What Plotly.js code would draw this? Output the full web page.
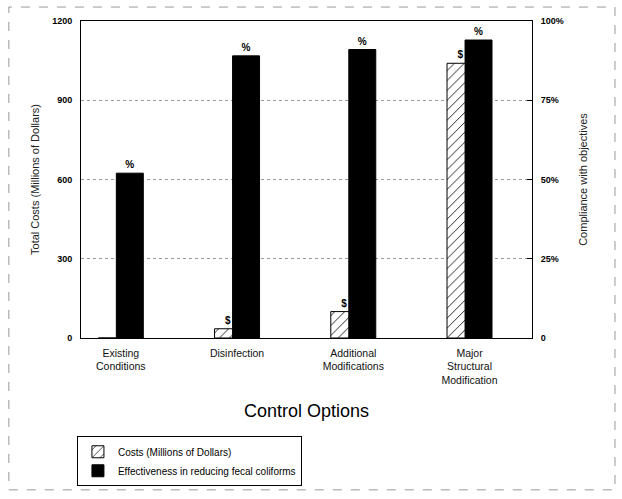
<!DOCTYPE html>
<html>
<head>
<meta charset="utf-8">
<script src="https://cdn.plot.ly/plotly-3.0.1.min.js"></script>
<style>
  html, body { margin: 0; padding: 0; background: #fff; }
  #chart { width: 622px; height: 499px; }
</style>
</head>
<body>
<div id="chart"></div>
<script>
// Control options compared by cost and by effectiveness
const categories = [
  "Existing<br>Conditions",
  "Disinfection",
  "Additional<br>Modifications",
  "Major<br>Structural<br>Modification"
];
const costs = [0, 35, 100, 1040];          // millions of dollars
const effectiveness = [52, 89, 91, 94];    // % compliance with objectives

const costTicks = [0, 300, 600, 900, 1200];
const pctTickVals = [0, 25, 50, 75, 100];
const pctTickText = ["0", "25%", "50%", "75%", "100%"];

const font = "Liberation Sans, Arial, sans-serif";
const barW = 0.232;

const costTrace = {
  type: "bar",
  name: "Costs (Millions of Dollars)",
  x: categories,
  y: costs,
  yaxis: "y",
  width: barW,
  offset: -barW / 2 - 0.155,
  text: costs.map(v => (v > 0 ? "$" : "")),
  textposition: "outside",
  cliponaxis: false,
  textfont: { family: font, size: 10, color: "#000", weight: "bold" },
  marker: {
    color: "#fff",
    line: { color: "#000", width: 1 },
    pattern: { shape: "/", fgcolor: "#000", bgcolor: "#fff", size: 7, solidity: 0.12 }
  },
  hoverinfo: "x+y"
};

const effTrace = {
  type: "bar",
  name: "Effectiveness in reducing fecal coliforms",
  x: categories,
  y: effectiveness,
  yaxis: "y2",
  width: barW,
  offset: -barW / 2,
  text: effectiveness.map(() => "%"),
  textposition: "outside",
  cliponaxis: false,
  textfont: { family: font, size: 10, color: "#000", weight: "bold" },
  marker: { color: "#000", line: { color: "#000", width: 1 } },
  hoverinfo: "x+y"
};

const layout = {
  width: 622,
  height: 499,
  paper_bgcolor: "#fff",
  plot_bgcolor: "#fff",
  margin: { l: 81, r: 90, t: 21, b: 161 },
  barmode: "overlay",
  showlegend: true,
  font: { family: font, color: "#111", size: 10 },
  xaxis: {
    type: "category",
    range: [-0.42, 3.46],
    showline: true,
    linecolor: "#000",
    linewidth: 1,
    mirror: true,
    ticks: "",
    showgrid: false,
    tickfont: { family: font, size: 10.5, color: "#111" },
    ticklabelshift: -9,
    ticklabelstandoff: 5,
    title: {
      text: "Control Options",
      font: { family: font, size: 18, color: "#000" },
      standoff: 19
    }
  },
  yaxis: {
    range: [0, 1200],
    tickvals: costTicks,
    showline: true,
    linecolor: "#000",
    linewidth: 1,
    ticks: "",
    showgrid: true,
    gridcolor: "#9a9a9a",
    griddash: "dot",
    gridwidth: 1,
    zeroline: false,
    ticklabelstandoff: 6,
    tickfont: { family: font, size: 9, color: "#000", weight: "bold" },
    title: {
      text: "Total Costs (Millions of Dollars)",
      font: { family: font, size: 11, color: "#222" },
      standoff: 10
    }
  },
  yaxis2: {
    overlaying: "y",
    side: "right",
    range: [0, 100],
    tickvals: pctTickVals,
    ticktext: pctTickText,
    showline: true,
    linecolor: "#000",
    linewidth: 1,
    ticks: "inside",
    ticklen: 5,
    tickcolor: "#000",
    showgrid: false,
    zeroline: false,
    ticklabelstandoff: 6,
    tickfont: { family: font, size: 9, color: "#000", weight: "bold" },
    title: {
      text: "Compliance with objectives",
      font: { family: font, size: 11, color: "#222" },
      standoff: 16
    }
  },
  legend: {
    x: -0.009,
    y: -0.31,
    xanchor: "left",
    yanchor: "top",
    orientation: "v",
    bgcolor: "#fff",
    bordercolor: "#000",
    borderwidth: 1,
    font: { family: font, size: 10, color: "#000" },
    itemwidth: 30,
    traceorder: "normal"
  },
  shapes: [
    {
      type: "rect",
      xref: "paper", yref: "paper",
      x0: -0.16, x1: 1.184, y0: -0.479, y1: 1.044,
      line: { color: "#999", width: 1, dash: "dash" },
      layer: "below"
    }
  ]
};

Plotly.newPlot("chart", [costTrace, effTrace], layout, { displayModeBar: false, staticPlot: true });
</script>
</body>
</html>
